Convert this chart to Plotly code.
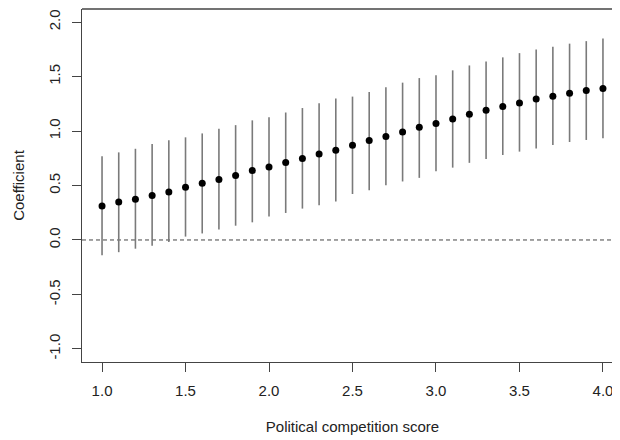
import plotly.graph_objects as go

# Data
score = [1.0, 1.1, 1.2, 1.3, 1.4, 1.5, 1.6, 1.7, 1.8, 1.9, 2.0,
         2.1, 2.2, 2.3, 2.4, 2.5, 2.6, 2.7, 2.8, 2.9, 3.0,
         3.1, 3.2, 3.3, 3.4, 3.5, 3.6, 3.7, 3.8, 3.9, 4.0]
coef = [0.312, 0.349, 0.373, 0.408, 0.440, 0.483, 0.520, 0.554, 0.591, 0.638, 0.670,
        0.711, 0.747, 0.789, 0.823, 0.869, 0.912, 0.949, 0.991, 1.034, 1.068,
        1.110, 1.153, 1.190, 1.224, 1.258, 1.294, 1.320, 1.346, 1.373, 1.390]
lower = [-0.140, -0.112, -0.080, -0.053, -0.019, 0.031, 0.060, 0.095, 0.131, 0.162, 0.215,
         0.248, 0.288, 0.318, 0.353, 0.422, 0.457, 0.502, 0.537, 0.570, 0.630,
         0.664, 0.708, 0.743, 0.780, 0.811, 0.839, 0.872, 0.899, 0.918, 0.934]
upper = [0.769, 0.804, 0.837, 0.880, 0.915, 0.942, 0.978, 1.022, 1.054, 1.098, 1.126,
         1.170, 1.211, 1.254, 1.298, 1.316, 1.358, 1.401, 1.444, 1.486, 1.513,
         1.557, 1.602, 1.637, 1.676, 1.715, 1.749, 1.774, 1.802, 1.825, 1.850]

x_ticks = [1.0, 1.5, 2.0, 2.5, 3.0, 3.5, 4.0]
x_tick_labels = ["1.0", "1.5", "2.0", "2.5", "3.0", "3.5", "4.0"]
y_ticks = [-1.0, -0.5, 0.0, 0.5, 1.0, 1.5, 2.0]
y_tick_labels = ["-1.0", "-0.5", "0.0", "0.5", "1.0", "1.5", "2.0"]

plus = [u - c for u, c in zip(upper, coef)]
minus = [c - l for c, l in zip(coef, lower)]

FONT = "Arial, Liberation Sans, sans-serif"
AXC = "#444444"

fig = go.Figure()
fig.add_trace(go.Scatter(
    x=score, y=coef, mode="markers",
    marker=dict(color="black", size=7),
    error_y=dict(type="data", symmetric=False, array=plus, arrayminus=minus,
                 color="#7a7a7a", thickness=1.6, width=0),
    showlegend=False, hoverinfo="skip",
))

fig.update_layout(
    width=620, height=440,
    margin=dict(l=74, r=5, t=1, b=86, autoexpand=False),
    paper_bgcolor="white", plot_bgcolor="white",
    font=dict(family=FONT, size=15, color="#222222"),
    xaxis=dict(
        range=[0.88, 4.12], showgrid=False, zeroline=False, automargin=False,
        showline=True, linecolor=AXC, linewidth=1.3,
        tickmode="array", tickvals=x_ticks, ticktext=x_tick_labels,
        ticks="outside", ticklen=9, tickwidth=1.3, tickcolor=AXC,
        ticklabelstandoff=6,
        title=dict(text="Political competition score", standoff=23,
                   font=dict(size=15)),
    ),
    yaxis=dict(
        range=[-1.12, 2.12], showgrid=False, zeroline=False, automargin=False,
        showline=True, linecolor=AXC, linewidth=1.3,
        tickmode="array", tickvals=y_ticks, ticktext=y_tick_labels,
        ticks="outside", ticklen=9, tickwidth=1.3, tickcolor=AXC,
        tickangle=-90, ticklabelstandoff=6,
        title=dict(text="Coefficient", standoff=17, font=dict(size=15)),
    ),
    shapes=[
        dict(type="line", xref="paper", yref="paper", x0=0, x1=1.02, y0=1, y1=1,
             line=dict(color=AXC, width=1.3)),
        dict(type="line", xref="paper", yref="y", x0=0, x1=1, y0=0, y1=0,
             line=dict(color="#444444", width=1, dash="4px,3px"), layer="below"),
    ],
)

fig.write_html("out.html")
